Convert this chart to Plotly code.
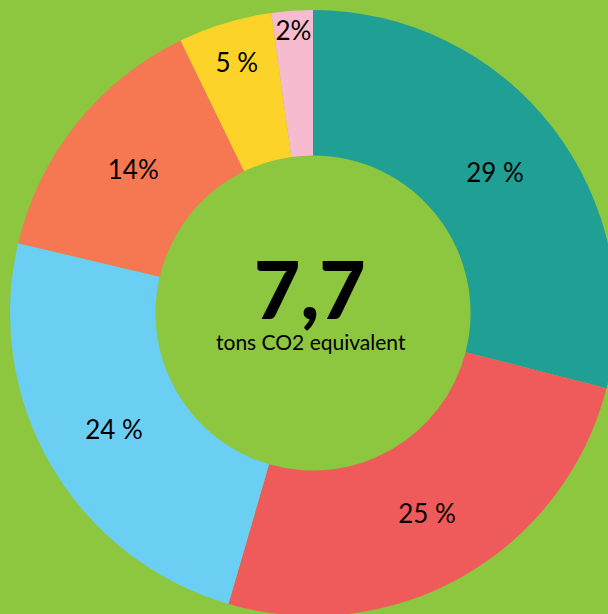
import plotly.graph_objects as go

categories = ["A", "B", "C", "D", "E", "F"]
values = [29, 25.5, 24.2, 14.1, 5, 2.2]
labels_text = ["29 %", "25 %", "24 %", "14%", "5 %", "2%"]
colors = ["#209F95", "#EF5B5A", "#6BCFF4", "#F67852", "#FDD32A", "#F7BBD0"]
total_value = "7,7"
total_unit = "tons CO2 equivalent"

W, H = 616, 616
fig = go.Figure(go.Pie(
    labels=categories,
    values=values,
    text=labels_text,
    textinfo="text",
    textposition="inside",
    insidetextorientation="horizontal",
    sort=False,
    direction="clockwise",
    rotation=0,
    hole=0.52,
    marker=dict(colors=colors, line=dict(width=0)),
    textfont=dict(family="Lato", size=26, color="black"),
    domain=dict(x=[10 / W, 1], y=[0, 1 - 10 / H]),
    showlegend=False,
    hoverinfo="skip",
))

fig.add_annotation(text=total_value, x=310 / W, y=1 - 288 / H, xref="paper", yref="paper",
                   showarrow=False, font=dict(family="Lato", size=80, color="black", weight=900))
fig.add_annotation(text=total_unit, x=311 / W, y=1 - 341 / H, xref="paper", yref="paper",
                   showarrow=False, font=dict(family="Lato", size=21, color="black"))

fig.update_layout(
    width=W, height=H,
    margin=dict(l=0, r=0, t=0, b=0),
    paper_bgcolor="#8DC63F",
    plot_bgcolor="#8DC63F",
    uniformtext=dict(minsize=24, mode="show"),
)

fig.write_html("out.html", config={"displayModeBar": False},
               post_script="document.body.style.margin='0';document.body.style.overflow='hidden';")
